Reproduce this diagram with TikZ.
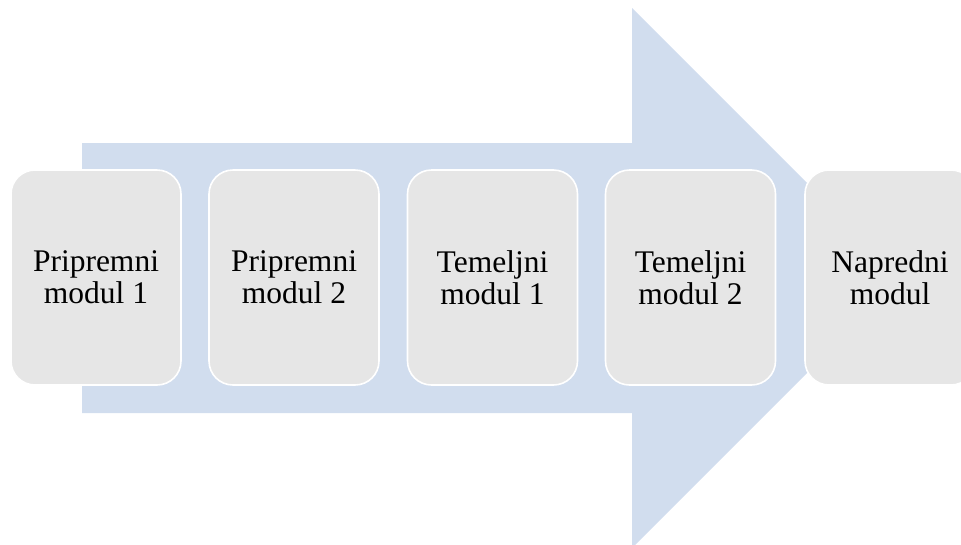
\documentclass[tikz,border=0pt]{standalone}
\usepackage{fontspec}
\setmainfont{Liberation Serif}
\definecolor{arrowblue}{HTML}{D1DDEE}
\definecolor{boxgray}{HTML}{E6E6E6}
\begin{document}
\begin{tikzpicture}[x=1pt,y=-1pt,
  modbox/.style={draw=white, line width=1.6pt, fill=boxgray, rounded corners=24pt,
    minimum width=170pt, minimum height=215pt, inner sep=0pt, align=center,
    font=\fontsize{31.5}{32}\selectfont}]
\useasboundingbox (0,0) rectangle (961,544);
\clip (0,0) rectangle (961,544);
\fill[arrowblue] (82,143) -- (632,143) -- (632,8) -- (902,278) -- (632,548) -- (632,413) -- (82,413) -- cycle;
\node[modbox] (m1) at (96,277.5) {Pripremni\\modul 1};
\node[modbox] (m2) at (294,277.5) {Pripremni\\modul 2};
\node[modbox] (m3) at (492.5,277.5) {Temeljni\\modul 1};
\node[modbox] (m4) at (690.5,277.5) {Temeljni\\modul 2};
\node[modbox] (m5) at (890,277.5) {Napredni\\modul};
\end{tikzpicture}
\end{document}
